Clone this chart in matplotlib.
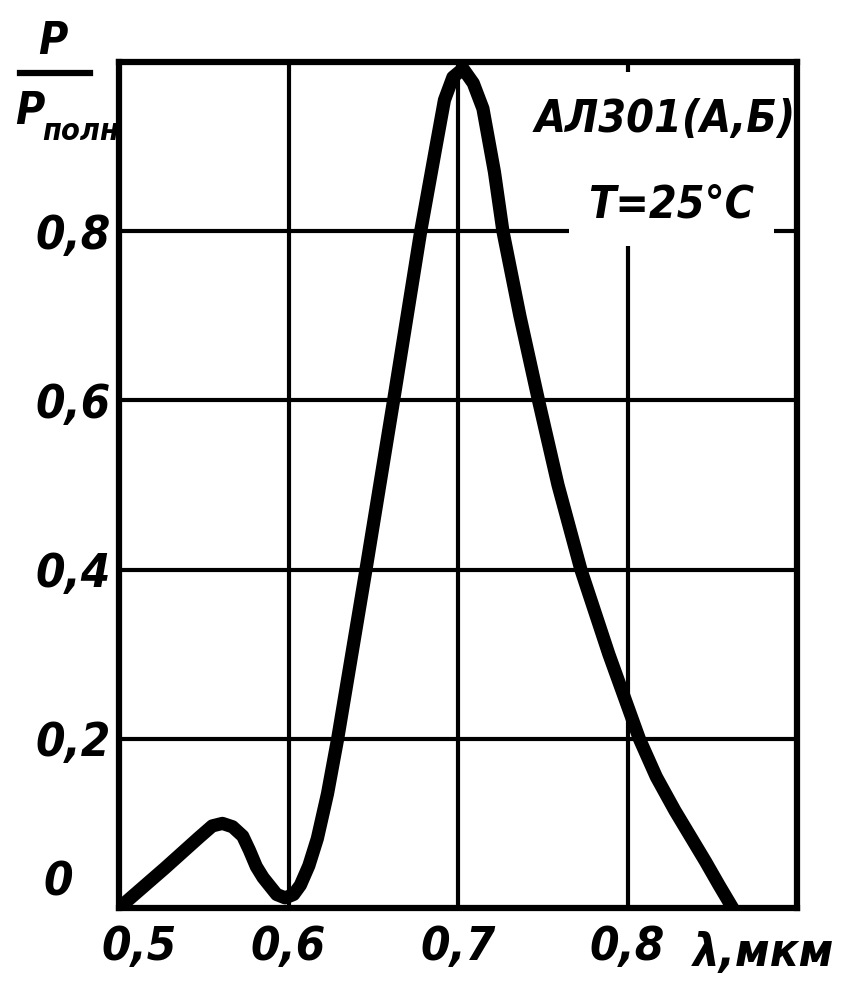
import matplotlib
matplotlib.use("Agg")
import matplotlib.pyplot as plt
from matplotlib.lines import Line2D
from matplotlib.transforms import ScaledTranslation

# spectral curve (lambda in mkm, P/P_poln)
lam = [0.500, 0.527, 0.547, 0.555, 0.561, 0.567, 0.573, 0.577, 0.581, 0.585, 0.589,
       0.593, 0.598, 0.603, 0.607, 0.612, 0.617, 0.623, 0.629, 0.6457, 0.662, 0.678,
       0.687, 0.692, 0.697, 0.703, 0.709, 0.7147, 0.7215, 0.7265, 0.7365,
       0.7475, 0.759, 0.7725, 0.789, 0.807, 0.817, 0.828, 0.837,
       0.846, 0.854, 0.862]
p_rel = [0.0, 0.047, 0.083, 0.097, 0.100, 0.096, 0.085, 0.068, 0.049, 0.036, 0.026,
         0.016, 0.012, 0.016, 0.027, 0.050, 0.082, 0.135, 0.200, 0.400, 0.600, 0.800,
         0.900, 0.955, 0.982, 0.992, 0.975, 0.945, 0.870, 0.800, 0.700,
         0.600, 0.500, 0.400, 0.300, 0.200, 0.155, 0.115, 0.085,
         0.055, 0.027, 0.0]

xticks = [0.5, 0.6, 0.7, 0.8]
xlabels = ['0,5', '0,6', '0,7', '0,8']
yticks = [0, 0.2, 0.4, 0.6, 0.8]
ylabels = ['0', '0,2', '0,4', '0,6', '0,8']

font = dict(family='DejaVu Sans', style='oblique', weight='bold', stretch='condensed')

f = plt.figure(figsize=(8.49, 9.88), dpi=100)
ax = f.add_axes([119/849, 1 - 908/988, (797 - 119)/849, (908 - 62)/988])
ax.set_xlim(0.5, 0.9)
ax.set_ylim(0, 1.0)

ax.plot(lam, p_rel, color='black', lw=9.5, solid_capstyle='round', solid_joinstyle='round', zorder=4)

ax.set_xticks(xticks)
ax.set_xticklabels(xlabels, fontsize=34, **font)
ax.set_yticks(yticks)
ax.set_yticklabels(ylabels, fontsize=34, **font)
ax.tick_params(length=0)
ax.tick_params(axis='x', pad=12)
ax.tick_params(axis='y', pad=60)
for lab in ax.get_yticklabels():
    lab.set_horizontalalignment('left')
yl0 = ax.get_yticklabels()[0]
yl0.set_verticalalignment('bottom')
yl0.set_transform(yl0.get_transform() + ScaledTranslation(0.08, 0.03, f.dpi_scale_trans))
xl0 = ax.get_xticklabels()[0]
xl0.set_transform(xl0.get_transform() + ScaledTranslation(0.2, 0, f.dpi_scale_trans))

ax.grid(True, color='black', lw=3)
for s in ax.spines.values():
    s.set_linewidth(4.5)
    s.set_zorder(5)

# device label, white boxes break the grid lines like in the print
ax.text(0.8224, 0.9316, 'АЛ301(А,Б)', ha='center', va='center', fontsize=32, zorder=3,
        bbox=dict(facecolor='white', edgecolor='none', pad=19), **font)
ax.text(0.8259, 0.8308, 'T=25°C', ha='center', va='center', fontsize=32, zorder=3,
        bbox=dict(facecolor='white', edgecolor='none', pad=14), **font)

# axis titles
f.text(53/849, 1 - 42/988, 'P', ha='center', va='center', fontsize=32, **font)
f.add_artist(Line2D([20/849, 90/849], [1 - 73/988, 1 - 73/988], color='black', lw=4.5))
f.text(30/849, 1 - 112/988, 'P', ha='center', va='center', fontsize=32, **font)
f.text(42/849, 1 - 131/988, 'полн', ha='left', va='center', fontsize=22, **font)
f.text(693/849, 1 - 953/988, 'λ,мкм', ha='left', va='center', fontsize=34, **font)

f.savefig('out.png', dpi=100, facecolor='white')
